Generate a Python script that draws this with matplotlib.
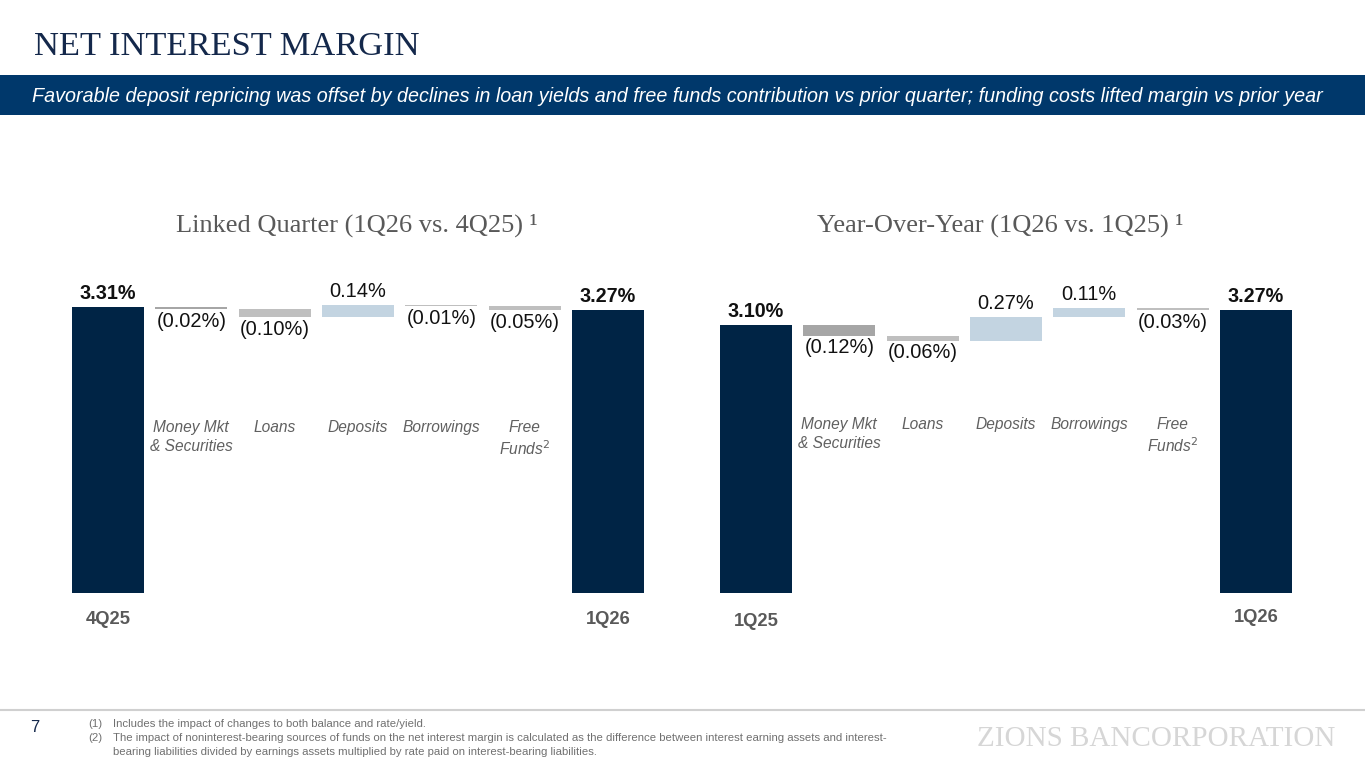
import matplotlib
matplotlib.use("Agg")
import matplotlib.pyplot as plt
import matplotlib.transforms as mtransforms
from matplotlib.patches import Rectangle

# ---------------- data ----------------
categories = ["Money Mkt\n& Securities", "Loans", "Deposits", "Borrowings", "Free\nFunds$^2$"]
lq_start_label, lq_end_label = "4Q25", "1Q26"
lq_start, lq_end = 3.31, 3.27
lq_deltas = [-0.02, -0.10, 0.14, -0.01, -0.05]

yoy_start_label, yoy_end_label = "1Q25", "1Q26"
yoy_start, yoy_end = 3.10, 3.27
yoy_deltas = [-0.12, -0.06, 0.27, 0.11, -0.03]

title = "NET INTEREST MARGIN"
banner = ("Favorable deposit repricing was offset by declines in loan yields and free funds "
          "contribution vs prior quarter; funding costs lifted margin vs prior year")
lq_title = "Linked Quarter (1Q26 vs. 4Q25) \u00b9"
yoy_title = "Year-Over-Year (1Q26 vs. 1Q25) \u00b9"
footnotes = [
    ("(1)", "Includes the impact of changes to both balance and rate/yield."),
    ("(2)", "The impact of noninterest-bearing sources of funds on the net interest margin is calculated as the difference between interest earning assets and interest-"),
    ("", "bearing liabilities divided by earnings assets multiplied by rate paid on interest-bearing liabilities."),
]
page_no = "7"
logo = "ZIONS BANCORPORATION"

# ---------------- style ----------------
W, H = 1365, 768
NAVY = "#002445"
BANNER = "#00386B"
GRAY_TXT = "#595959"
LBL_TXT = "#606060"
NEG_DARK = "#A6A6A6"
NEG = "#BFBFBF"
POS = "#C3D4E1"
SANS = ["Liberation Sans", "DejaVu Sans"]
SERIF = ["Liberation Serif", "DejaVu Serif"]

fig = plt.figure(figsize=(W / 100, H / 100), dpi=100)
fig.patch.set_facecolor("white")

def fy(px):
    return 1 - px / H

def fx(px):
    return px / W

# title
fig.text(fx(34), fy(47), title, family=SERIF, fontsize=24.8, color="#14284B",
         ha="left", va="center")
# banner
fig.patches.append(Rectangle((0, fy(115)), 1, (115 - 75) / H, transform=fig.transFigure,
                             facecolor=BANNER, edgecolor="none", zorder=0))
fig.text(fx(32), fy(96), banner, family=SANS, style="italic", fontsize=14.25,
         color="white", ha="left", va="center")

def waterfall(left_px, start_lbl, end_lbl, start, end, deltas, sub_title, title_cx,
              cat_y, start_lbl_y, end_lbl_y):
    unit = 83.33
    ax_left = left_px
    ax_w = unit * 7
    bottom_px, top_px = 593, 200
    scale = 86.4
    ax = fig.add_axes([fx(ax_left), fy(bottom_px), ax_w / W, (bottom_px - top_px) / H])
    ax.set_xlim(-0.5, 6.5)
    ax.set_ylim(0, (bottom_px - top_px) / scale)
    ax.axis("off")
    bw = 0.865
    trans = mtransforms.blended_transform_factory(ax.transData, fig.transFigure)

    # start / end totals
    for xi, v in [(0, start), (6, end)]:
        ax.bar(xi, v, width=bw, color=NAVY, linewidth=0)
        ax.annotate(f"{v:.2f}%", (xi, v), xytext=(0, 3), textcoords="offset points",
                    ha="center", va="bottom", family=SANS, fontweight="bold",
                    fontsize=14.2, color="#111111")
    # deltas
    level = start
    for i, d in enumerate(deltas):
        xi = i + 1
        lo, hi = (level + d, level) if d < 0 else (level, level + d)
        if d >= 0:
            col = POS
        elif i == 0:
            col = NEG_DARK
        else:
            col = NEG
        ax.bar(xi, hi - lo, bottom=lo, width=bw, color=col, linewidth=0)
        if d >= 0:
            ax.annotate(f"{d:.2f}%", (xi, hi), xytext=(0, 3), textcoords="offset points",
                        ha="center", va="bottom", family=SANS, fontsize=14.4, color="#111111")
        else:
            ax.annotate(f"({abs(d):.2f}%)", (xi, lo), xytext=(0, -2), textcoords="offset points",
                        ha="center", va="top", family=SANS, fontsize=14.4, color="#111111")
        level += d
        ax.text(xi, fy(cat_y), categories[i], transform=trans, ha="center", va="top",
                family=SANS, style="italic", fontsize=11.2, color=LBL_TXT, linespacing=1.3)
    ax.text(0, fy(start_lbl_y), start_lbl, transform=trans, ha="center", va="center",
            family=SANS, fontweight="bold", fontsize=13.2, color=GRAY_TXT)
    ax.text(6, fy(end_lbl_y), end_lbl, transform=trans, ha="center", va="center",
            family=SANS, fontweight="bold", fontsize=13.2, color=GRAY_TXT)
    fig.text(fx(title_cx), fy(225), sub_title, family=SERIF, fontsize=19,
             color=GRAY_TXT, ha="center", va="center")
    return ax

waterfall(66.3, lq_start_label, lq_end_label, lq_start, lq_end, lq_deltas, lq_title, 357,
          420, 619, 619)
waterfall(714.3, yoy_start_label, yoy_end_label, yoy_start, yoy_end, yoy_deltas, yoy_title, 1000,
          417, 621, 618)

# footer
fig.lines.append(plt.Line2D([0, 1], [fy(710), fy(710)], transform=fig.transFigure,
                            color="#D0D0D0", linewidth=1.5))
fig.text(fx(35), fy(727), page_no, family=SANS, fontsize=12, color="#14284B",
         ha="center", va="center")
ys = [724, 738, 752]
for (num, txt), yy in zip(footnotes, ys):
    if num:
        fig.text(fx(88), fy(yy), num, family=SANS, fontsize=8.2, color="#707070",
                 ha="left", va="center")
    fig.text(fx(113), fy(yy), txt, family=SANS, fontsize=8.2, color="#707070",
             ha="left", va="center")
fig.text(fx(1335), fy(739), logo, family=SERIF, fontsize=21, color="#D6D6D6",
         ha="right", va="center")

fig.savefig("out.png", dpi=100, facecolor="white")
